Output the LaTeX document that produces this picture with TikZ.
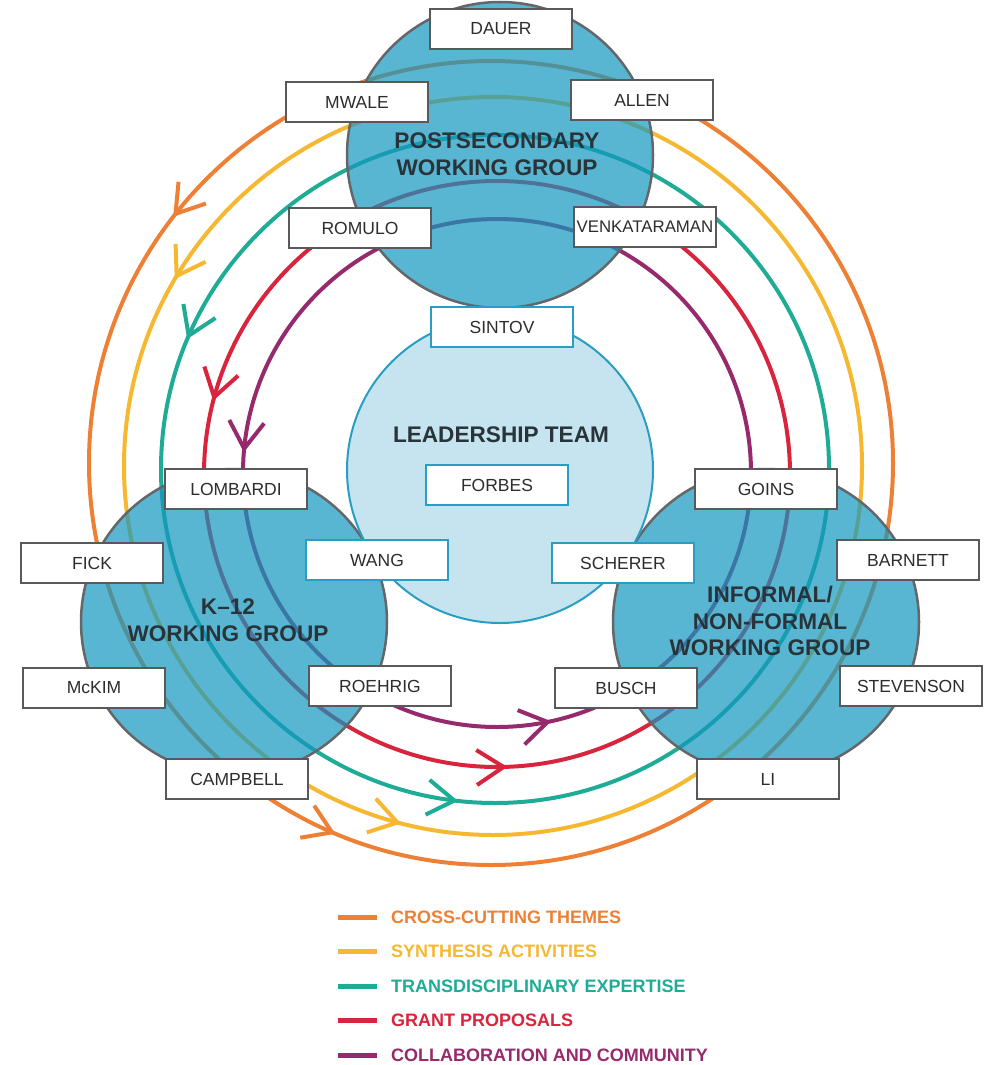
\documentclass[tikz,border=0pt]{standalone}
\usepackage{fontspec}
\setmainfont{Liberation Sans}
\usetikzlibrary{decorations.markings}
\definecolor{corange}{RGB}{238,128,53}
\definecolor{cyellow}{RGB}{246,184,49}
\definecolor{cteal}{RGB}{31,172,150}
\definecolor{cred}{RGB}{216,36,60}
\definecolor{cpurple}{RGB}{150,42,108}
\definecolor{grpfill}{RGB}{19,151,192}
\definecolor{grpedge}{RGB}{100,102,104}
\definecolor{leadfill}{RGB}{198,228,239}
\definecolor{leadedge}{RGB}{42,158,194}
\definecolor{boxedge}{RGB}{88,89,91}
\definecolor{nametext}{RGB}{45,45,45}
\definecolor{titletext}{RGB}{40,52,58}
\tikzset{
  grpcircle/.style={circle, minimum size=306pt, inner sep=0pt, draw=grpedge, line width=2.5pt, fill=grpfill, fill opacity=0.7, draw opacity=1},
  leadcircle/.style={circle, minimum size=306pt, inner sep=0pt, draw=leadedge, line width=2pt, fill=leadfill},
  namebox/.style={rectangle, draw=boxedge, line width=2.5pt, fill=white, minimum width=142pt, minimum height=40pt, inner sep=0pt, font=\fontsize{17.5}{20}\selectfont, text=nametext},
  leadbox/.style={namebox, draw=leadedge},
  grptitle/.style={font=\fontsize{22.6}{26.5}\selectfont\bfseries, text=titletext, align=center},
  legendtext/.style={font=\fontsize{18}{20}\selectfont\bfseries, text=#1, anchor=west, inner sep=0pt},
  legendline/.style={line width=5pt, draw=#1},
}
% chevron mark along the path direction
\newcommand\chevmark[1]{\draw[line width=4pt, draw=#1, line cap=butt, line join=miter] (-27pt,17.5pt) -- (0pt,0pt) -- (-27pt,-17.5pt);}
% ring: colour, cx, cy, r, pos1, pos2, pos3
\newcommand\flowring[7]{%
  \draw[line width=4pt, draw=#1, postaction={decorate}, decoration={markings,
     mark=at position #5 with {\chevmark{#1}},
     mark=at position #6 with {\chevmark{#1}},
     mark=at position #7 with {\chevmark{#1}}}]
   (#2+#4,#3) arc[start angle=0, end angle=360, radius=#4];}
\begin{document}
\begin{tikzpicture}[x=1pt,y=1pt]
\useasboundingbox (0,0) rectangle (994,-1065);
% rings
\flowring{corange}{491}{-463}{402}{0.3936}{0.6853}{0.0294}
\flowring{cyellow}{493}{-466}{369}{0.4139}{0.7083}{0.0514}
\flowring{cteal}{495}{-469}{334}{0.4347}{0.7306}{0.0731}
\flowring{cred}{497}{-474}{293}{0.4578}{0.7536}{0.0961}
\flowring{cpurple}{497}{-473}{254}{0.4847}{0.7819}{0.1233}
% working group circles
\node[grpcircle] (post) at (500,-155) {};
\node[grpcircle] (k12) at (234,-622) {};
\node[grpcircle] (inf) at (766,-622) {};
\node[leadcircle] (lead) at (500,-470) {};
% titles
\node[grptitle] (posttitle) at (497,-154) {POSTSECONDARY\\WORKING GROUP};
\node[grptitle] (k12title) at (228,-620) {K–12\\WORKING GROUP};
\node[grptitle] (inftitle) at (770,-621) {INFORMAL/\\NON-FORMAL\\WORKING GROUP};
\node[grptitle] (leadtitle) at (501,-435) {LEADERSHIP TEAM};
% name boxes
\node[namebox] (dauer) at (501,-29) {DAUER};
\node[namebox] (mwale) at (357,-102) {MWALE};
\node[namebox] (allen) at (642,-100) {ALLEN};
\node[namebox] (romulo) at (360,-228) {ROMULO};
\node[namebox, font=\fontsize{16.8}{20}\selectfont] (venk) at (645,-227) {VENKATARAMAN};
\node[leadbox] (sintov) at (502,-327) {SINTOV};
\node[leadbox] (forbes) at (497,-485) {FORBES};
\node[leadbox] (wang) at (377,-560) {WANG};
\node[leadbox] (scherer) at (623,-563) {SCHERER};
\node[namebox] (lombardi) at (236,-489) {LOMBARDI};
\node[namebox] (fick) at (92,-563) {FICK};
\node[namebox] (mckim) at (94,-688) {McKIM};
\node[namebox] (roehrig) at (380,-686) {ROEHRIG};
\node[namebox] (campbell) at (237,-779) {CAMPBELL};
\node[namebox] (goins) at (766,-489) {GOINS};
\node[namebox] (barnett) at (908,-560) {BARNETT};
\node[namebox] (busch) at (626,-688) {BUSCH};
\node[namebox] (stevenson) at (911,-686) {STEVENSON};
\node[namebox] (li) at (768,-779) {LI};
% legend
\node[legendtext=corange] (leg1) at (391,-917) {CROSS-CUTTING THEMES};
\node[legendtext=cyellow] (leg2) at (391,-951) {SYNTHESIS ACTIVITIES};
\node[legendtext=cteal] (leg3) at (391,-986) {TRANSDISCIPLINARY EXPERTISE};
\node[legendtext=cred] (leg4) at (391,-1020) {GRANT PROPOSALS};
\node[legendtext=cpurple] (leg5) at (391,-1055) {COLLABORATION AND COMMUNITY};
\draw[legendline=corange] ([xshift=-14pt]leg1.west) -- ++(-39,0);
\draw[legendline=cyellow] ([xshift=-14pt]leg2.west) -- ++(-39,0);
\draw[legendline=cteal] ([xshift=-14pt]leg3.west) -- ++(-39,0);
\draw[legendline=cred] ([xshift=-14pt]leg4.west) -- ++(-39,0);
\draw[legendline=cpurple] ([xshift=-14pt]leg5.west) -- ++(-39,0);
\end{tikzpicture}
\end{document}
